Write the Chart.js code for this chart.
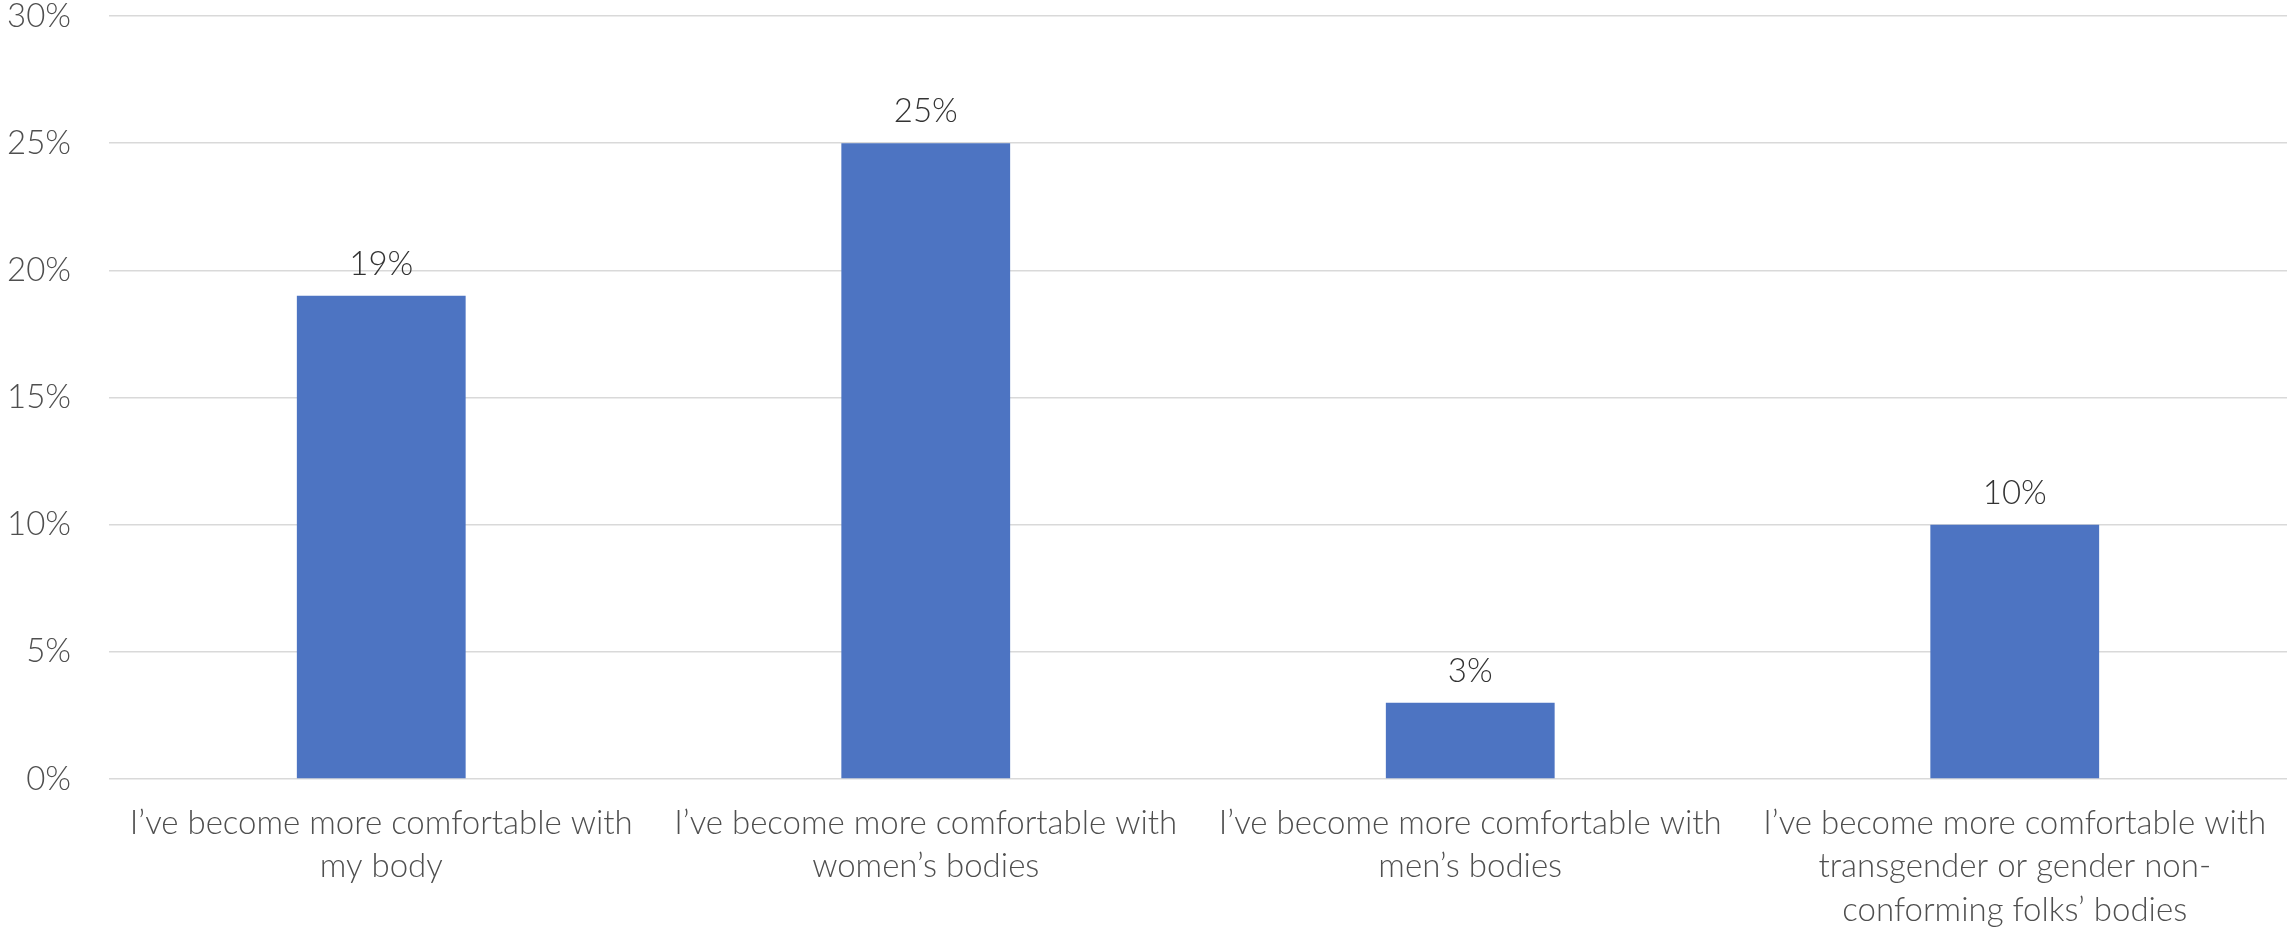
<!DOCTYPE html>
<html>
<head>
<meta charset="utf-8">
<script src="https://cdn.jsdelivr.net/npm/chart.js@4"></script>
<style>
  html, body { margin: 0; padding: 0; background: #fff; }
  #wrap { width: 2287px; height: 927px; }
</style>
</head>
<body>
<div id="wrap"><canvas id="barChart"></canvas></div>
<script>
const categories = [
  ['I\u2019ve become more comfortable with', 'my body'],
  ['I\u2019ve become more comfortable with', 'women\u2019s bodies'],
  ['I\u2019ve become more comfortable with', 'men\u2019s bodies'],
  ['I\u2019ve become more comfortable with', 'transgender or gender non-', 'conforming folks\u2019 bodies'],
];
const values = [19, 25, 3, 10];
const yTicks = [0, 5, 10, 15, 20, 25, 30];

Chart.defaults.font.family = 'Lato';
Chart.defaults.font.weight = 300;
Chart.defaults.color = '#4f4f4f';

/* value labels above bars */
const barLabels = {
  id: 'barLabels',
  afterDatasetsDraw(chart) {
    const ctx = chart.ctx;
    const meta = chart.getDatasetMeta(0);
    ctx.save();
    ctx.font = '300 33px Lato';
    ctx.fillStyle = '#333333';
    ctx.textAlign = 'center';
    ctx.textBaseline = 'bottom';
    meta.data.forEach((bar, i) => {
      ctx.fillText(values[i] + '%', bar.x, bar.y - 15);
    });
    ctx.restore();
  },
};

new Chart(document.getElementById('barChart'), {
  type: 'bar',
  data: {
    labels: categories,
    datasets: [
      {
        data: values,
        backgroundColor: '#4d74c2',
        borderWidth: 0,
        categoryPercentage: 1,
        barPercentage: 0.31,
      },
    ],
  },
  options: {
    responsive: true,
    maintainAspectRatio: false,
    animation: false,
    layout: { padding: { top: 16, right: 0, bottom: 0, left: 0 } },
    plugins: {
      legend: { display: false },
      tooltip: { enabled: false },
    },
    scales: {
      x: {
        grid: { display: false },
        border: { display: false },
        afterFit: (s) => { s.height = 927 - 779; },
        ticks: {
          font: { size: 33, lineHeight: 1.33 },
          color: '#4f4f4f',
          padding: 14,
          maxRotation: 0,
          autoSkip: false,
        },
      },
      y: {
        min: 0,
        max: 30,
        afterBuildTicks: (s) => { s.ticks = yTicks.map((v) => ({ value: v })); },
        afterFit: (s) => {
          s.width = 109;
          s.paddingTop = 0;
          s.paddingBottom = 0;
        },
        grid: { color: '#d9d9d9', lineWidth: 1.5, drawTicks: false },
        border: { display: false },
        ticks: {
          font: { size: 33 },
          color: '#4f4f4f',
          padding: 38,
          callback: (v) => v + '%',
        },
      },
    },
  },
  plugins: [barLabels],
});
</script>
</body>
</html>
